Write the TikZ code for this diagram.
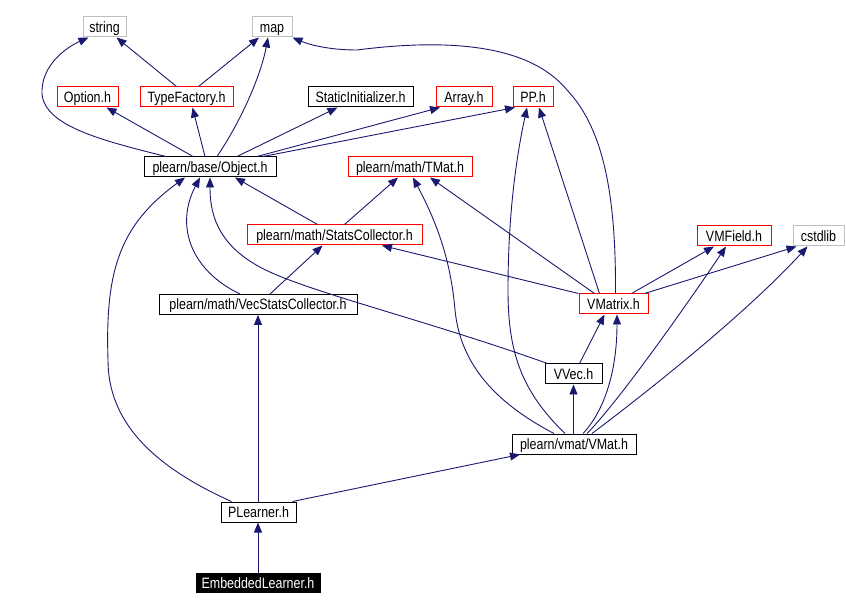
\documentclass[tikz,border=0pt]{standalone}
\usepackage{fontspec}
\setmainfont{Liberation Sans}[FakeStretch=0.83]
\usetikzlibrary{arrows.meta}
\definecolor{edgeblue}{HTML}{191970}
\definecolor{sysgray}{HTML}{BFBFBF}
\begin{document}
\begin{tikzpicture}[x=1pt,y=-1pt,
  hdr/.style={draw=black,line width=1pt,inner sep=0pt,minimum height=20pt,
    text height=11pt,text depth=0pt,font=\fontsize{15}{17}\selectfont},
  redhdr/.style={hdr,draw=red},
  syshdr/.style={hdr,draw=sysgray},
  mainhdr/.style={hdr,fill=black,text=white,minimum height=19pt},
  dep/.style={draw=edgeblue,line width=0.9pt,-{Triangle[length=10pt,width=8pt]}}]
\useasboundingbox (0,0) rectangle (846,609);
% Top row
\node[syshdr,minimum width=43] (string) at (104.5,27) {string};
\node[syshdr,minimum width=40] (map) at (272,27) {map};
% Second row
\node[redhdr,minimum width=61] (option) at (87.5,97) {Option.h};
\node[redhdr,minimum width=93] (typefactory) at (186.5,97) {TypeFactory.h};
\node[hdr,minimum width=105] (staticinit) at (360.5,97) {StaticInitializer.h};
\node[redhdr,minimum width=56] (array) at (464,97) {Array.h};
\node[redhdr,minimum width=40] (pp) at (533,97) {PP.h};
% Middle
\node[hdr,minimum width=132] (object) at (210,167) {plearn/base/Object.h};
\node[redhdr,minimum width=124] (tmat) at (410,167) {plearn/math/TMat.h};
\node[redhdr,minimum width=175] (statscoll) at (334.5,235) {plearn/math/StatsCollector.h};
\node[redhdr,minimum width=74] (vmfield) at (734,236) {VMField.h};
\node[syshdr,minimum width=51] (cstdlib) at (818.5,236) {cstdlib};
\node[hdr,minimum width=198] (vecstats) at (258,304.5) {plearn/math/VecStatsCollector.h};
\node[redhdr,minimum width=69] (vmatrix) at (613.5,304) {VMatrix.h};
\node[hdr,minimum width=57] (vvec) at (573.5,374) {VVec.h};
\node[hdr,minimum width=124] (vmat) at (574,444) {plearn/vmat/VMat.h};
% Bottom
\node[hdr,minimum width=75] (plearner) at (258.5,512) {PLearner.h};
\node[mainhdr,minimum width=124] (embedded) at (258,582.5) {EmbeddedLearner.h};

% Object.h
\draw[dep] ([xshift=-44]object.north) .. controls (100,140) and (40,125) .. (42,90)
  .. controls (43,65) and (65,48) .. ([xshift=-16]string.south);
\draw[dep] ([xshift=-17]object.north) -- ([xshift=19]option.south);
\draw[dep] ([xshift=-5]object.north) -- ([xshift=6]typefactory.south);
\draw[dep] ([xshift=7]object.north) .. controls (245,115) and (262,70) .. ([xshift=-4]map.south);
\draw[dep] ([xshift=27]object.north) -- ([xshift=-23]staticinit.south);
\draw[dep] ([xshift=47]object.north) -- ([xshift=-24]array.south);
\draw[dep] ([xshift=53]object.north) -- ([xshift=-18]pp.south);
% TypeFactory.h
\draw[dep] ([xshift=-10]typefactory.north) -- ([xshift=12]string.south);
\draw[dep] ([xshift=12]typefactory.north) -- ([xshift=-13]map.south);
% StatsCollector.h
\draw[dep] ([xshift=-17]statscoll.north) -- ([xshift=25]object.south);
\draw[dep] ([xshift=10]statscoll.north) -- ([xshift=-12]tmat.south);
% VecStatsCollector.h
\draw[dep] ([xshift=-18]vecstats.north) .. controls (190,270) and (175,225) .. ([xshift=-10]object.south);
\draw[dep] ([xshift=12]vecstats.north) -- ([xshift=-12]statscoll.south);
% VMatrix.h
\draw[dep] ([xshift=2]vmatrix.north) .. controls (616,200) and (605,130) .. (567,90)
  .. controls (530,45) and (450,38) .. (357,50)
  .. controls (330,50) and (310,45) .. (map.south east);
\draw[dep] ([xshift=-14]vmatrix.north) -- ([xshift=6]pp.south);
\draw[dep] ([xshift=-19]vmatrix.north) -- ([xshift=20]tmat.south);
\draw[dep] (vmatrix.north west) -- ([xshift=47.5]statscoll.south);
\draw[dep] ([xshift=18]vmatrix.north) -- ([xshift=-20]vmfield.south);
\draw[dep] ([xshift=31]vmatrix.north) -- ([xshift=-22]cstdlib.south);
% VVec.h
\draw[dep] ([xshift=-26]vvec.north) .. controls (420,318) and (300,290) .. (258,266)
  .. controls (215,242) and (210,210) .. (object.south);
\draw[dep] ([xshift=6]vvec.north) -- ([xshift=-9]vmatrix.south);
% VMat.h
\draw[dep] ([xshift=-0.5]vmat.north) -- (vvec.south);
\draw[dep] ([xshift=9]vmat.north) .. controls (605,410) and (617,370) .. ([xshift=3.5]vmatrix.south);
\draw[dep] ([xshift=13]vmat.north) .. controls (620,400) and (690,300) .. ([xshift=-8]vmfield.south);
\draw[dep] ([xshift=18]vmat.north) .. controls (630,405) and (740,320) .. ([xshift=-11]cstdlib.south);
\draw[dep] ([xshift=-20]vmat.north) .. controls (490,400) and (460,360) .. (455,310)
  .. controls (450,250) and (430,210) .. ([xshift=3]tmat.south);
\draw[dep] ([xshift=-9]vmat.north) .. controls (520,390) and (508,350) .. (508,290)
  .. controls (508,200) and (520,140) .. ([xshift=-6]pp.south);
% PLearner.h
\draw[dep] ([xshift=-27]plearner.north) .. controls (150,465) and (108,420) .. (108,360)
  .. controls (105,270) and (120,225) .. ([xshift=-25]object.south);
\draw[dep] ([xshift=-0.5]plearner.north) -- (vecstats.south);
\draw[dep] ([xshift=34]plearner.north) -- ([xshift=-54]vmat.south);
% EmbeddedLearner.h
\draw[dep] (embedded.north) -- ([xshift=-0.5]plearner.south);
\end{tikzpicture}
\end{document}
